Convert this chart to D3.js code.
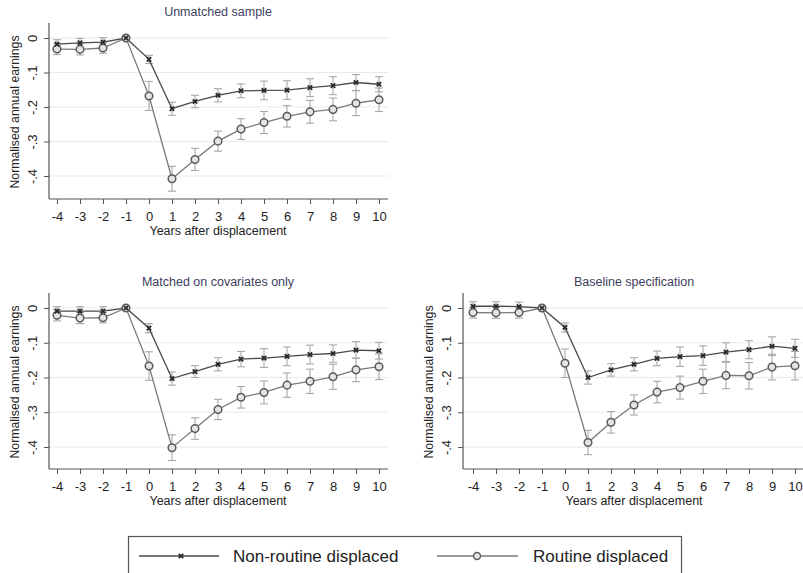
<!DOCTYPE html>
<html>
<head>
<meta charset="utf-8">
<script src="https://cdn.jsdelivr.net/npm/d3@7"></script>
<style>
  body { margin: 0; background: #fff; }
  svg { display: block; font-family: "Liberation Sans", Arial, sans-serif; }
</style>
</head>
<body>
<svg id="chart" width="803" height="573"></svg>
<script>
// Event-study estimates: years relative to displacement
const years = [-4, -3, -2, -1, 0, 1, 2, 3, 4, 5, 6, 7, 8, 9, 10];
const yTicks = [0, -0.1, -0.2, -0.3, -0.4];
const yTickLabels = ["0", "-.1", "-.2", "-.3", "-.4"];
const seriesNames = ["Non-routine displaced", "Routine displaced"];
const panelTitles = ["Unmatched sample", "Matched on covariates only", "Baseline specification"];

// Unmatched sample
const unmatchedNonRoutine = [-0.018, -0.014, -0.012, 0, -0.062, -0.205, -0.184, -0.166, -0.153, -0.152, -0.151, -0.144, -0.138, -0.129, -0.134];
const unmatchedNonRoutineCI = [0.013, 0.013, 0.013, 0, 0.012, 0.019, 0.018, 0.019, 0.020, 0.027, 0.027, 0.026, 0.026, 0.023, 0.022];
const unmatchedRoutine = [-0.032, -0.033, -0.029, 0, -0.168, -0.408, -0.352, -0.299, -0.264, -0.245, -0.227, -0.214, -0.207, -0.189, -0.179];
const unmatchedRoutineCI = [0.016, 0.016, 0.015, 0, 0.042, 0.036, 0.032, 0.029, 0.030, 0.032, 0.031, 0.033, 0.033, 0.036, 0.034];

// Matched on covariates only
const matchedNonRoutine = [-0.009, -0.009, -0.009, 0, -0.058, -0.203, -0.183, -0.162, -0.147, -0.144, -0.139, -0.134, -0.131, -0.121, -0.123];
const matchedNonRoutineCI = [0.013, 0.013, 0.013, 0, 0.013, 0.019, 0.017, 0.019, 0.022, 0.027, 0.027, 0.027, 0.025, 0.024, 0.024];
const matchedRoutine = [-0.021, -0.029, -0.028, 0, -0.167, -0.402, -0.347, -0.292, -0.257, -0.243, -0.222, -0.211, -0.198, -0.178, -0.169];
const matchedRoutineCI = [0.016, 0.016, 0.015, 0, 0.041, 0.037, 0.031, 0.029, 0.031, 0.033, 0.035, 0.035, 0.036, 0.034, 0.037];

// Baseline specification
const baselineNonRoutine = [0.005, 0.005, 0.004, 0, -0.056, -0.200, -0.178, -0.162, -0.145, -0.140, -0.137, -0.127, -0.120, -0.110, -0.116];
const baselineNonRoutineCI = [0.013, 0.013, 0.013, 0, 0.013, 0.019, 0.018, 0.019, 0.021, 0.028, 0.028, 0.027, 0.026, 0.027, 0.026];
const baselineRoutine = [-0.013, -0.014, -0.013, 0, -0.159, -0.387, -0.329, -0.279, -0.242, -0.229, -0.211, -0.194, -0.195, -0.170, -0.166];
const baselineRoutineCI = [0.016, 0.016, 0.016, 0, 0.041, 0.035, 0.031, 0.029, 0.031, 0.033, 0.035, 0.038, 0.038, 0.037, 0.041];

const panels = [
  { title: panelTitles[0], nr: unmatchedNonRoutine, nrCI: unmatchedNonRoutineCI, r: unmatchedRoutine, rCI: unmatchedRoutineCI,
    left: 49, right: 388, top: 23, bottom: 199, x0: 57, x1: 379, y0: 38, y4: 176 },
  { title: panelTitles[1], nr: matchedNonRoutine, nrCI: matchedNonRoutineCI, r: matchedRoutine, rCI: matchedRoutineCI,
    left: 49, right: 388, top: 293, bottom: 469, x0: 57, x1: 379, y0: 308, y4: 447 },
  { title: panelTitles[2], nr: baselineNonRoutine, nrCI: baselineNonRoutineCI, r: baselineRoutine, rCI: baselineRoutineCI,
    left: 463, right: 803, top: 293, bottom: 469, x0: 473, x1: 795, y0: 308, y4: 447 }
];

const svg = d3.select("#chart");
const nrColor = "#4a4a4a", rColor = "#7a7a7a", ciColor = "#a8a8a8", gridColor = "#e6ecee";

function drawPanel(p) {
  const g = svg.append("g");
  const x = d3.scaleLinear().domain([-4, 10]).range([p.x0, p.x1]);
  const y = d3.scaleLinear().domain([0, -0.4]).range([p.y0, p.y4]);

  // gridlines
  g.selectAll("line.grid").data(yTicks).join("line")
    .attr("x1", p.left).attr("x2", p.right)
    .attr("y1", d => y(d)).attr("y2", d => y(d))
    .attr("stroke", gridColor).attr("stroke-width", 1.2);

  // title
  g.append("text").attr("x", (p.x0 + p.x1) / 2).attr("y", p.top - 7)
    .attr("text-anchor", "middle").attr("font-size", 12.5).attr("fill", "#3e3e5e").text(p.title);

  // axes
  const xAxis = d3.axisBottom(x).tickValues(years).tickSize(5).tickPadding(8).tickFormat(d3.format("d"));
  const xg = g.append("g").attr("transform", `translate(0,${p.bottom})`).call(xAxis);
  xg.select(".domain").attr("d", `M${p.left},0H${p.right}`).attr("stroke", "#555").attr("stroke-width", 1.2);
  xg.selectAll(".tick line").attr("stroke", "#555");
  xg.selectAll(".tick text").attr("font-size", 13).attr("fill", "#222")
    .attr("font-family", "Liberation Sans, Arial, sans-serif").text(d => d < 0 ? "-" + Math.abs(d) : d);

  const yAxis = d3.axisLeft(y).tickValues(yTicks).tickSize(5).tickFormat((d, i) => yTickLabels[i]);
  const yg = g.append("g").attr("transform", `translate(${p.left},0)`).call(yAxis);
  yg.select(".domain").attr("d", `M0,${p.top}V${p.bottom}`).attr("stroke", "#555").attr("stroke-width", 1.2);
  yg.selectAll(".tick line").attr("stroke", "#555");
  yg.selectAll(".tick text").attr("font-size", 13).attr("fill", "#222")
    .attr("font-family", "Liberation Sans, Arial, sans-serif")
    .attr("transform", "rotate(-90)").attr("x", 0).attr("y", -12).attr("dy", "0")
    .attr("text-anchor", "middle");

  g.append("text").attr("transform", `translate(${p.left - 30},${(p.top + p.bottom) / 2 + 1}) rotate(-90)`)
    .attr("text-anchor", "middle").attr("font-size", 12.3).attr("fill", "#222").text("Normalised annual earnings");
  g.append("text").attr("x", (p.x0 + p.x1) / 2).attr("y", p.bottom + 36)
    .attr("text-anchor", "middle").attr("font-size", 12.5).attr("fill", "#222").text("Years after displacement");

  const line = d3.line().x((d, i) => x(years[i])).y(d => y(d));

  // confidence intervals
  function ci(vals, half) {
    const cg = g.append("g").attr("stroke", ciColor).attr("stroke-width", 1.1).attr("fill", "none");
    years.forEach((yr, i) => {
      if (half[i] === 0) return;
      const cx = x(yr), lo = y(vals[i] - half[i]), hi = y(vals[i] + half[i]);
      cg.append("line").attr("x1", cx).attr("x2", cx).attr("y1", lo).attr("y2", hi);
      cg.append("line").attr("x1", cx - 4).attr("x2", cx + 4).attr("y1", lo).attr("y2", lo);
      cg.append("line").attr("x1", cx - 4).attr("x2", cx + 4).attr("y1", hi).attr("y2", hi);
    });
  }
  ci(p.nr, p.nrCI);
  ci(p.r, p.rCI);

  g.append("path").datum(p.r).attr("d", line).attr("fill", "none").attr("stroke", rColor).attr("stroke-width", 1.3);
  g.append("path").datum(p.nr).attr("d", line).attr("fill", "none").attr("stroke", nrColor).attr("stroke-width", 1.3);

  g.selectAll("circle.r").data(p.r).join("circle")
    .attr("cx", (d, i) => x(years[i])).attr("cy", d => y(d)).attr("r", 3.8)
    .attr("fill", "#e4e4e4").attr("stroke", "#5a5a5a").attr("stroke-width", 1.5);
  p.nr.forEach((d, i) => {
    const cx = x(years[i]), cy = y(d);
    g.append("path").attr("d", `M${cx - 2.2},${cy - 2.2}L${cx + 2.2},${cy + 2.2}M${cx - 2.2},${cy + 2.2}L${cx + 2.2},${cy - 2.2}`)
      .attr("stroke", "#2a2a2a").attr("stroke-width", 1.8);
  });
}

panels.forEach(drawPanel);

// legend
const lg = svg.append("g");
lg.append("rect").attr("x", 128.5).attr("y", 536.5).attr("width", 553).attr("height", 60)
  .attr("fill", "#fff").attr("stroke", "#555").attr("stroke-width", 1.2);
const ly = 556;
lg.append("line").attr("x1", 139).attr("x2", 219).attr("y1", ly).attr("y2", ly).attr("stroke", nrColor).attr("stroke-width", 1.3);
lg.append("path").attr("d", `M${178.8},${ly - 2.2}L${183.2},${ly + 2.2}M${178.8},${ly + 2.2}L${183.2},${ly - 2.2}`)
  .attr("stroke", "#2a2a2a").attr("stroke-width", 1.8);
lg.append("text").attr("x", 233).attr("y", ly + 6).attr("font-size", 17).attr("fill", "#222").text(seriesNames[0]);
lg.append("line").attr("x1", 437).attr("x2", 518).attr("y1", ly).attr("y2", ly).attr("stroke", rColor).attr("stroke-width", 1.3);
lg.append("circle").attr("cx", 477).attr("cy", ly).attr("r", 3.5).attr("fill", "#e4e4e4").attr("stroke", "#5a5a5a").attr("stroke-width", 1.4);
lg.append("text").attr("x", 533).attr("y", ly + 6).attr("font-size", 17).attr("fill", "#222").text(seriesNames[1]);
</script>
</body>
</html>
